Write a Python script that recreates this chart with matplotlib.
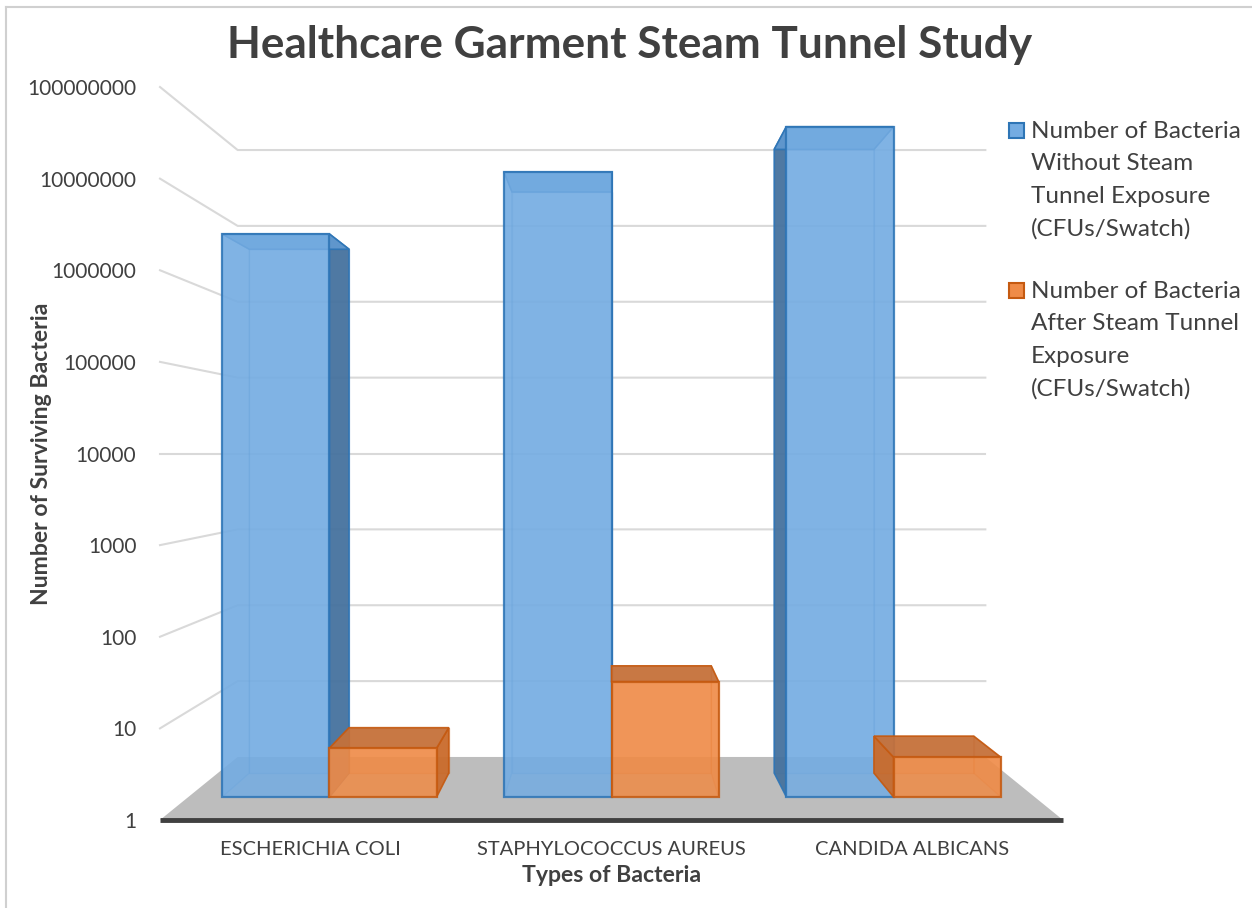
import numpy as np
import matplotlib
matplotlib.use('Agg')
import matplotlib.pyplot as plt
from matplotlib.patches import Polygon, Rectangle
from matplotlib.lines import Line2D
from matplotlib.ticker import NullLocator

plt.rcParams['font.family'] = ['Lato', 'DejaVu Sans']

categories = ['ESCHERICHIA COLI', 'STAPHYLOCOCCUS AUREUS', 'CANDIDA ALBICANS']
without_steam = [3.6e6, 1.9e7, 6.4e7]
after_steam = [3.7, 22, 2.9]
series_names = ['Number of Bacteria\nWithout Steam\nTunnel Exposure\n(CFUs/Swatch)',
                'Number of Bacteria\nAfter Steam Tunnel\nExposure\n(CFUs/Swatch)']
yticks = [10 ** k for k in range(9)]

# colours: front, top, side, edge
blue = ('#74ace2', '#6199d0', '#44709c', '#2e75b6')
orange = ('#ef8b47', '#c4703a', '#c96a2a', '#c55a11')
text_c = '#404040'

# fake 3d camera: points shrink toward the vanishing point (centre, 10^4)
horizon = 1e4
wall_depth = 0.828
bar_front = 0.937
bar_back = 0.872
bar_width = 0.38

W, H = 1252, 908
fig = plt.figure(figsize=(W / 100, H / 100), dpi=100)
ax = fig.add_axes([160 / W, 88 / H, 903 / W, 733 / H])
ax.set_yscale('log')
ax.set_xlim(-0.5, len(categories) - 0.5)
ax.set_ylim(1, 1e8)

xc = (len(categories) - 1) / 2


def proj(x, y, s):
    x = np.asarray(x, float)
    y = np.asarray(y, float)
    s = np.asarray(s, float)
    return xc + s * (x - xc), horizon * (y / horizon) ** s


def face(xs, ys, ss):
    px, py = proj(xs, ys, ss)
    return np.column_stack([px, py])


def draw_box(x0, x1, top, colors, z):
    front_c, top_c, side_c, edge_c = colors
    F, B = bar_front, bar_back
    back = face([x0, x1, x1, x0], [1, 1, top, top], [B] * 4)
    left = face([x0] * 4, [1, top, top, 1], [F, F, B, B])
    right = face([x1] * 4, [1, top, top, 1], [F, F, B, B])
    topf = face([x0, x1, x1, x0], [top] * 4, [F, F, B, B])
    front = face([x0, x1, x1, x0], [1, 1, top, top], [F] * 4)
    if (x0 + x1) / 2 < xc:
        seen, hidden = right, left
    else:
        seen, hidden = left, right
    for pts in (back, hidden):
        ax.add_patch(Polygon(pts, closed=True, facecolor=front_c, alpha=0.35,
                             edgecolor=edge_c, lw=1, zorder=z, clip_on=False))
    ax.add_patch(Polygon(seen, closed=True, facecolor=side_c, alpha=0.92,
                         edgecolor=edge_c, lw=1.2, zorder=z + 0.1, clip_on=False))
    ax.add_patch(Polygon(topf, closed=True, facecolor=top_c, alpha=0.92,
                         edgecolor=edge_c, lw=1.2, zorder=z + 0.2, clip_on=False))
    ax.add_patch(Polygon(front, closed=True, facecolor=front_c, alpha=0.86,
                         edgecolor=edge_c, lw=1.6, zorder=z + 0.3, clip_on=False))


x_lo, x_hi = ax.get_xlim()

# back wall gridlines with the left wall diagonals
for t in yticks[1:]:
    gx, gy = proj([x_lo, x_lo, x_hi], [t, t, t], [1, wall_depth, wall_depth])
    ax.plot(gx, gy, color='#d9d9d9', lw=1.5, zorder=0.5, clip_on=False)

# floor
ax.add_patch(Polygon(face([x_lo, x_hi, x_hi, x_lo], [1] * 4,
                          [1, 1, wall_depth, wall_depth]),
                     closed=True, facecolor='#bdbdbd', edgecolor='none',
                     zorder=1, clip_on=False))
ax.plot([x_lo, x_hi], [1, 1], color='#404040', lw=3.5, zorder=1.5,
        solid_capstyle='butt', clip_on=False)

# bars
for i in range(len(categories)):
    draw_box(i - bar_width, i, without_steam[i], blue, 3 + i)
    draw_box(i, i + bar_width, after_steam[i], orange, 3.5 + i)

for sp in ax.spines.values():
    sp.set_visible(False)
ax.patch.set_visible(False)
ax.set_yticks(yticks)
ax.set_yticklabels([str(t) for t in yticks])
ax.yaxis.set_minor_locator(NullLocator())
ax.set_xticks(range(len(categories)))
ax.set_xticklabels(categories)
ax.tick_params(axis='y', length=0, pad=17, labelsize=15, labelcolor=text_c)
ax.tick_params(axis='x', length=0, pad=15, labelsize=14.5, labelcolor=text_c)

ax.set_xlabel('Types of Bacteria', fontsize=16.6, fontweight='bold', color=text_c)
ax.xaxis.set_label_coords(0.5, -0.076)
ax.xaxis.label.set_va('center')
ax.set_ylabel('Number of Surviving Bacteria', fontsize=16.6, fontweight='bold',
              color=text_c)
ax.yaxis.set_label_coords(-0.131, 0.5)
ax.yaxis.label.set_va('center')

fig.text(630 / W, 1 - 45 / H, 'Healthcare Garment Steam Tunnel Study',
         ha='center', va='center', fontsize=31.8, fontweight='bold', color=text_c)

# legend drawn by hand so the swatch sits on the first line
for k, (name, col) in enumerate(zip(series_names, (blue, orange))):
    top_px = 123 + k * 160
    fig.patches.append(Rectangle((1009 / W, 1 - (top_px + 15) / H), 15 / W, 15 / H,
                                 transform=fig.transFigure, facecolor=col[0],
                                 edgecolor=col[3], lw=1.5))
    for j, line in enumerate(name.split('\n')):
        fig.text(1031 / W, 1 - (top_px + 15 + j * 32.5) / H, line,
                 ha='left', va='baseline', fontsize=17.5, color=text_c)

# chart frame
fig.add_artist(Line2D([6 / W, 1], [1 - 7 / H, 1 - 7 / H], color='#d0d0d0', lw=1.5))
fig.add_artist(Line2D([6 / W, 6 / W], [0, 1 - 7 / H], color='#d0d0d0', lw=1.5))

fig.savefig('out.png', dpi=100)
